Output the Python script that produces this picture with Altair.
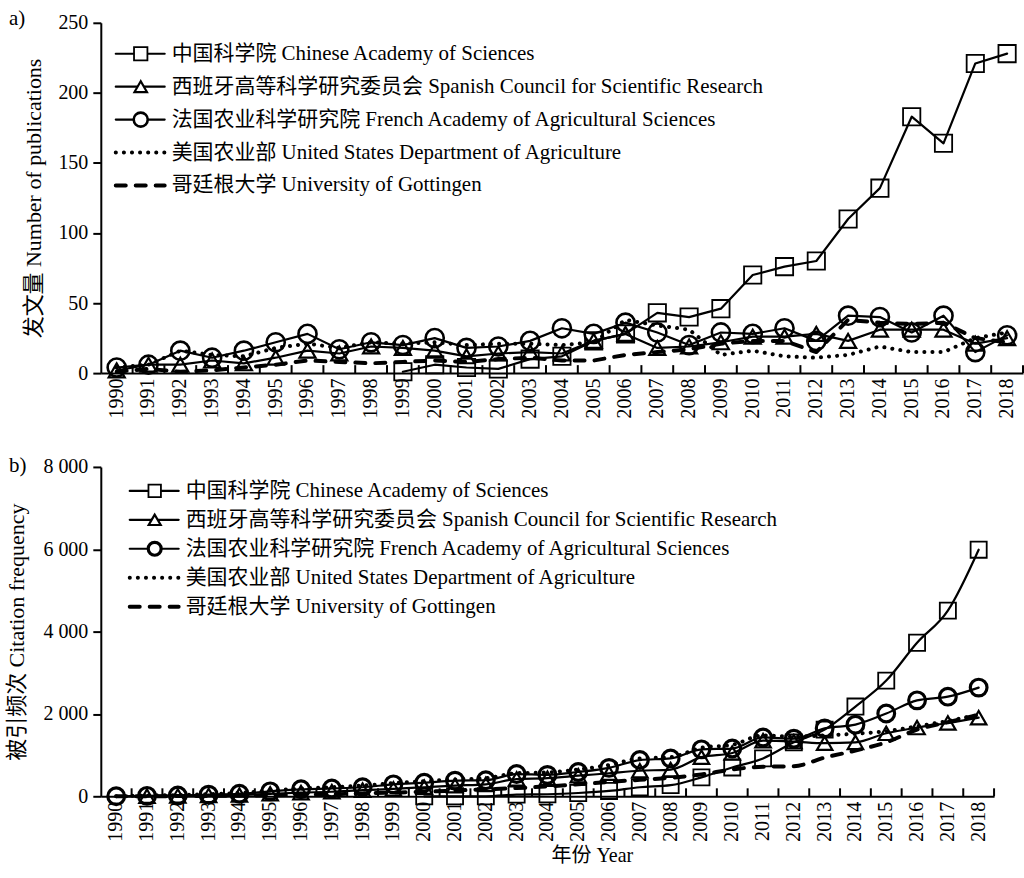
import altair as alt
import pandas as pd

FONT = "Liberation Serif, Noto Sans CJK SC"

years = [str(y) for y in range(1990, 2019)]
names = [
    "中国科学院 Chinese Academy of Sciences",
    "西班牙高等科学研究委员会 Spanish Council for Scientific Research",
    "法国农业科学研究院 French Academy of Agricultural Sciences",
    "美国农业部 United States Department of Agriculture",
    "哥廷根大学 University of Gottingen",
]

# a) Number of publications, 1990-2018
pub_cas = [None] * 9 + [1, 6, 4, 3, 10, 12, 23, 28, 43, 40, 46, 70, 76, 80, 110, 132, 183, 164, 221, 228]
pub_csic = [2, 6, 6, 9, 7, 11, 16, 14, 19, 18, 16, 12, 14, 15, 14, 23, 28, 18, 19, 22, 26, 26, 28, 23, 31, 31, 31, 21, 25]
pub_inra = [4, 6, 16, 11, 16, 22, 28, 17, 22, 20, 25, 18, 19, 23, 32, 28, 36, 29, 20, 29, 28, 32, 23, 41, 40, 29, 41, 15, 27]
pub_usda = [4, 6, 16, 13, 12, 18, 21, 18, 22, 21, 22, 20, 21, 21, 20, 22, 38, 34, 31, 13, 16, 12, 11, 13, 19, 15, 15, 25, 29]
pub_gott = [1, 3, 1, 2, 4, 6, 9, 8, 7, 8, 9, 8, 10, 11, 9, 9, 13, 15, 17, 21, 23, 23, 15, 38, 36, 35, 36, 25, 22]

# b) Citation frequency, 1990-2018
cit_cas = [None] * 10 + [0, 0, 0, 40, 50, 80, 130, 220, 270, 460, 700, 920, 1310, 1620, 2180, 2810, 3730, 4510, 5990]
cit_csic = [None, 5, 10, 20, 30, 60, 90, 110, 150, 180, 220, 260, 290, 420, 440, 500, 560, 620, 650, 950, 1050, 1350, 1330, 1290, 1310, 1530, 1670, 1780, 1910]
cit_inra = [0, 10, 20, 40, 60, 120, 170, 190, 220, 290, 330, 380, 390, 540, 520, 590, 690, 880, 920, 1140, 1160, 1430, 1400, 1650, 1740, 2010, 2330, 2420, 2640]
cit_usda = [0, 20, 30, 50, 80, 140, 190, 220, 260, 320, 370, 410, 440, 560, 580, 650, 760, 920, 950, 1180, 1250, 1480, 1450, 1480, 1520, 1580, 1700, 1830, 1980]
cit_gott = [0, 0, 5, 10, 15, 25, 35, 50, 70, 90, 110, 140, 170, 200, 240, 290, 350, 400, 450, 530, 650, 720, 730, 940, 1110, 1310, 1620, 1800, 1980]

shapes = ["square", "triangle-up", "circle"]
dashes = [None, None, None, [0.1, 8], [10, 10]]
widths = [2.2, 2.2, 2.2, 4, 4]


def long_df(series_lists):
    rows = []
    for name, vals in zip(names, series_lists):
        for y, v in zip(years, vals):
            if v is not None:
                rows.append({"year": y, "series": name, "value": v})
    return pd.DataFrame(rows)


def line_props(i):
    kw = dict(color="black", strokeWidth=widths[i], strokeCap="round", strokeJoin="round")
    if dashes[i] is not None:
        kw["strokeDash"] = dashes[i]
    return kw


def panel(df, ymax, yvals, width, height, ytitle, leg_y0, leg_y1, leg_x,
          interp, label, label_y, msizes, msw, xtitle=None, xtitle_x=None,
          ylabel_expr=None, ytitle_pad=12):
    xaxis_kw = dict(labelAngle=-90, labelFontSize=20, labelPadding=5, ticks=False,
                    domainWidth=2, domainColor="black", labelColor="black",
                    labelFont=FONT, titleFont=FONT, titleFontSize=20,
                    titleFontWeight="normal", titleColor="black")
    if xtitle:
        xaxis_kw.update(title=xtitle, titlePadding=4)
        if xtitle_x is not None:
            xaxis_kw.update(titleX=xtitle_x)
    else:
        xaxis_kw.update(title=None)
    x_enc = alt.X("year:O", scale=alt.Scale(domain=years, paddingInner=0, paddingOuter=0),
                  axis=alt.Axis(**xaxis_kw))
    yaxis_kw = dict(values=yvals, title=ytitle, tickSize=8, tickWidth=2, tickColor="black",
                    domainWidth=2, domainColor="black", labelFontSize=20, labelPadding=5,
                    labelColor="black", labelFont=FONT, titleFont=FONT, titleFontSize=22,
                    titleFontWeight="normal", titleColor="black", titlePadding=ytitle_pad,
                    grid=False)
    if ylabel_expr:
        yaxis_kw.update(labelExpr=ylabel_expr)
    y_enc = alt.Y("value:Q", scale=alt.Scale(domain=[0, ymax], nice=False),
                  axis=alt.Axis(**yaxis_kw))

    base = alt.Chart(df)
    layers = []
    for i in range(5):
        layers.append(base.transform_filter(alt.datum.series == names[i]).mark_line(
            interpolate=interp, **line_props(i)).encode(
            x=x_enc if i == 0 else alt.X("year:O"),
            y=y_enc if i == 0 else alt.Y("value:Q"),
            order=alt.Order("year:O")))
    for i in range(3):
        layers.append(base.transform_filter(alt.datum.series == names[i]).mark_point(
            shape=shapes[i], size=msizes[i], filled=False, color="black",
            strokeWidth=msw[i], opacity=1).encode(x=alt.X("year:O"), y=alt.Y("value:Q")))
    layers.append(alt.Chart(pd.DataFrame({"year": years})).mark_rule(color="black", strokeWidth=2).encode(
        x=alt.X("year:O", bandPosition=1), y=alt.value(height - 8), y2=alt.value(height)))
    main = alt.layer(*layers)

    ldf = pd.DataFrame({"series": names, "i": list(range(5))})
    ly = alt.Y("i:Q", scale=alt.Scale(domain=[0, 4], range=[leg_y0, leg_y1]), axis=None)
    llayers = []
    for i in range(5):
        llayers.append(alt.Chart(ldf).transform_filter(alt.datum.series == names[i]).mark_rule(
            **line_props(i)).encode(x=alt.value(leg_x + 2), x2=alt.value(leg_x + 51), y=ly))
    for i in range(3):
        llayers.append(alt.Chart(ldf).transform_filter(alt.datum.series == names[i]).mark_point(
            shape=shapes[i], size=msizes[i] * 0.6, filled=True, fill="white", stroke="black",
            strokeWidth=msw[i], opacity=1).encode(x=alt.value(leg_x + 27), y=ly))
    llayers.append(alt.Chart(ldf).mark_text(align="left", baseline="middle", font=FONT, fontSize=21,
                                            color="black").encode(x=alt.value(leg_x + 58), y=ly, text="series:N"))
    llayers.append(alt.Chart(pd.DataFrame({"t": [label]})).mark_text(
        align="left", baseline="middle", font=FONT, fontSize=21, color="black").encode(
        x=alt.value(-92), y=alt.value(label_y), text="t:N"))
    legend = alt.layer(*llayers)

    return alt.layer(main, legend).resolve_scale(y="independent").properties(width=width, height=height)


top = panel(long_df([pub_cas, pub_csic, pub_inra, pub_usda, pub_gott]), 250,
            [0, 50, 100, 150, 200, 250], 924, 351, "发文量 Number of publications",
            31, 163, 13, "linear", "a)", -4, [300, 260, 330], [1.8, 2.2, 2.6])

bottom = panel(long_df([cit_cas, cit_csic, cit_inra, cit_usda, cit_gott]), 8000,
               [0, 2000, 4000, 6000, 8000], 895, 330, "被引频次 Citation frequency",
               24, 140, 27, "monotone", "b)", -1, [260, 240, 280], [1.8, 2.2, 3.2],
               xtitle="年份 Year", xtitle_x=492,
               ylabel_expr="replace(format(datum.value, ','), ',', ' ')", ytitle_pad=14)

chart = alt.vconcat(top, bottom, spacing=37).properties(
    padding={"left": 6, "top": 7, "right": 0, "bottom": 0}
).configure_view(stroke=None)

chart.save("out.html", embed_options={"renderer": "svg", "actions": False})
